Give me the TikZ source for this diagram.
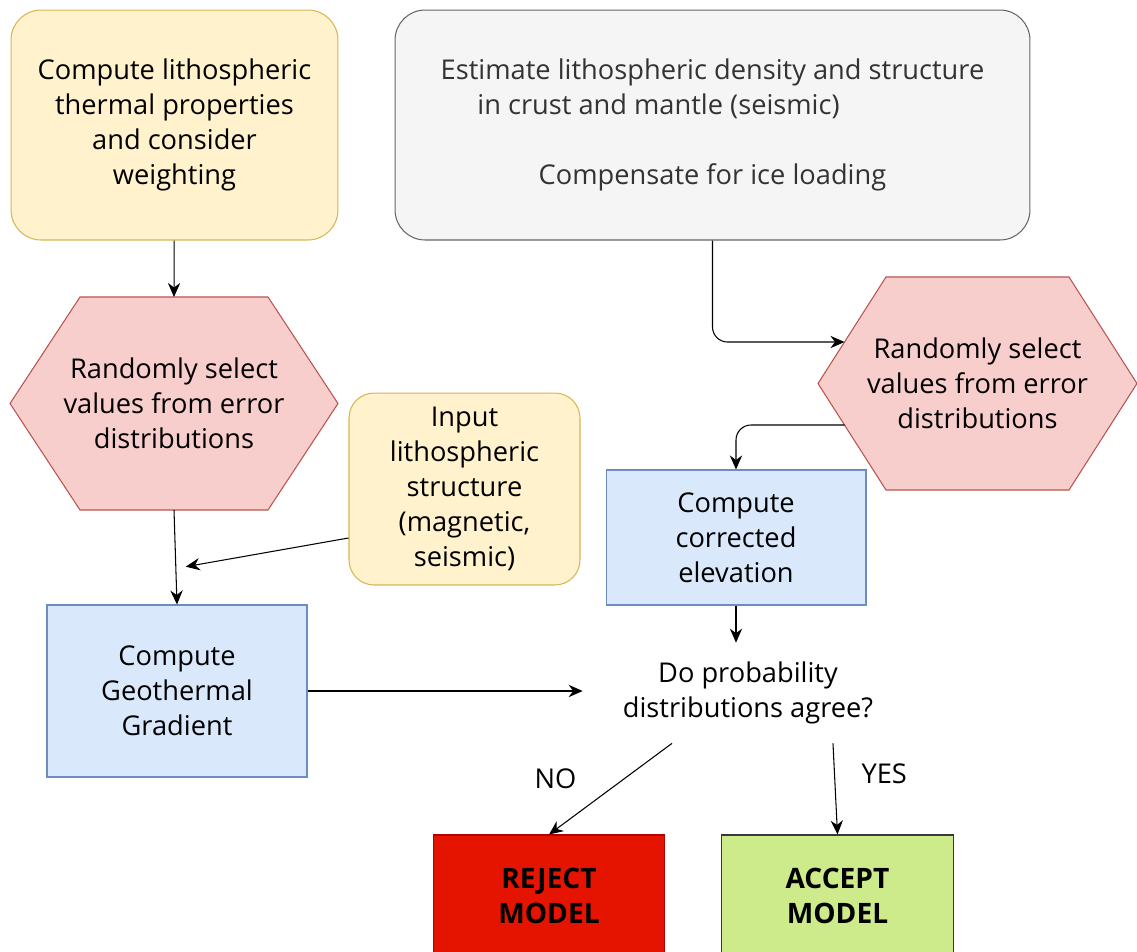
\documentclass[tikz,border=0pt]{standalone}
\usepackage{fontspec}
\setmainfont{Open Sans}
\usepackage{tikz}
\usetikzlibrary{arrows.meta,positioning,calc}
\usepackage{xcolor}
\definecolor{noteFill}{HTML}{FFF2CC}
\definecolor{noteLine}{HTML}{D6B656}
\definecolor{panelFill}{HTML}{F5F5F5}
\definecolor{panelLine}{HTML}{666666}
\definecolor{pickFill}{HTML}{F8CECC}
\definecolor{pickLine}{HTML}{B85450}
\definecolor{taskFill}{HTML}{DAE8FC}
\definecolor{taskLine}{HTML}{6C8EBF}
\definecolor{rejectFill}{HTML}{E51400}
\definecolor{rejectLine}{HTML}{B20000}
\definecolor{acceptFill}{HTML}{CDEB8B}
\definecolor{acceptLine}{HTML}{36393D}

\begin{document}
\begin{tikzpicture}[
    x=0.02cm, y=-0.02cm,
    every node/.style={font=\fontsize{15.5}{19.9}\selectfont, align=center},
    note/.style={rectangle, rounded corners=0.6cm, draw=noteLine, fill=noteFill,
                 line width=0.6pt},
    panel/.style={rectangle, rounded corners=0.6cm, draw=panelLine, fill=panelFill,
                  line width=0.6pt, text=black!80},
    pickhex/.style={draw=pickLine, fill=pickFill, line width=0.6pt},
    task/.style={rectangle, draw=taskLine, fill=taskFill, line width=0.6pt,
                 minimum width=5.2cm},
    verdict/.style={rectangle, draw=#1Line, fill=#1Fill, line width=0.6pt,
                    minimum width=4.63cm, minimum height=2.44cm,
                    font=\fontsize{16}{19.9}\selectfont\bfseries},
    arrow/.style={-{Stealth[length=8pt, width=7pt]}, line width=0.6pt}
]
\useasboundingbox (0,0) rectangle (1137,951);

% Top row: inputs
\node[note, minimum width=6.54cm, minimum height=4.6cm] (thermal) at (174.5,125)
    {Compute lithospheric\\thermal properties\\and consider\\weighting};
\node[panel, minimum width=12.7cm, minimum height=4.6cm] (density) at (712.5,125)
    {Estimate lithospheric density and structure\\
     in crust and mantle (seismic)\rule{2.16cm}{0pt}\\[19.9pt]
     Compensate for ice loading};

% Random draws (hexagons)
\coordinate (cL) at (174,403.5);
\coordinate (cR) at (977.5,383.5);
\draw[pickhex] (cL) ++(-164,0) -- ++(70,-106.5) -- ++(188,0) -- ++(70,106.5)
    -- ++(-70,106.5) -- ++(-188,0) -- cycle;
\draw[pickhex] (cR) ++(-159.5,0) -- ++(68,-106.5) -- ++(183,0) -- ++(68,106.5)
    -- ++(-68,106.5) -- ++(-183,0) -- cycle;
\node (drawL) at (cL) {Randomly select\\values from error\\distributions};
\node (drawR) at (cR) {Randomly select\\values from error\\distributions};
\coordinate (drawL-top) at ($(cL)+(0,-106.5)$);
\coordinate (drawL-bot) at ($(cL)+(0,106.5)$);
\coordinate (drawR-in) at ($(cR)+(-133,-41.5)$);
\coordinate (drawR-out) at ($(cR)+(-133,41.5)$);

\node[note, rounded corners=0.5cm, minimum width=4.62cm, minimum height=3.84cm]
    (structure) at (464.5,489)
    {Input\\lithospheric\\structure\\(magnetic,\\seismic)};

% Computations
\node[task, minimum height=2.7cm] (elev) at (736,537.5)
    {Compute\\corrected\\elevation};
\node[task, minimum height=3.44cm] (geo) at (177,691)
    {Compute\\Geothermal\\Gradient};
\node[minimum width=6.6cm, minimum height=2cm] (agree) at (748,693)
    {Do probability\\distributions agree?};

% Outcomes
\node[verdict=reject] (reject) at (549,896) {REJECT\\MODEL};
\node[verdict=accept] (accept) at (837.5,896) {ACCEPT\\MODEL};

\coordinate (join) at ([xshift=0.2cm]$(drawL-bot)!0.6!(geo.north)$);

% Arrows
\draw[arrow] (thermal) -- (drawL-top);
\draw[arrow] (drawL-bot) -- (geo.north);
\draw[arrow] ([yshift=-0.98cm]structure.west) -- (join);
\draw[arrow, rounded corners=0.3cm] (density.south) |- (drawR-in);
\draw[arrow, rounded corners=0.3cm] (drawR-out) -| (elev.north);
\draw[arrow] (elev.south) -- (elev.south |- agree.north);
\draw[arrow] (geo.east) -- (geo.east -| agree.west);
\draw[arrow] ([xshift=-1.52cm]agree.south) -- (reject.north)
    node[midway, xshift=-1.1cm, yshift=0.2cm] (no) {NO};
\draw[arrow] ([xshift=1.7cm]agree.south) -- (accept.north)
    node[midway, xshift=0.98cm, yshift=0.3cm] (yes) {YES};
\end{tikzpicture}
\end{document}
